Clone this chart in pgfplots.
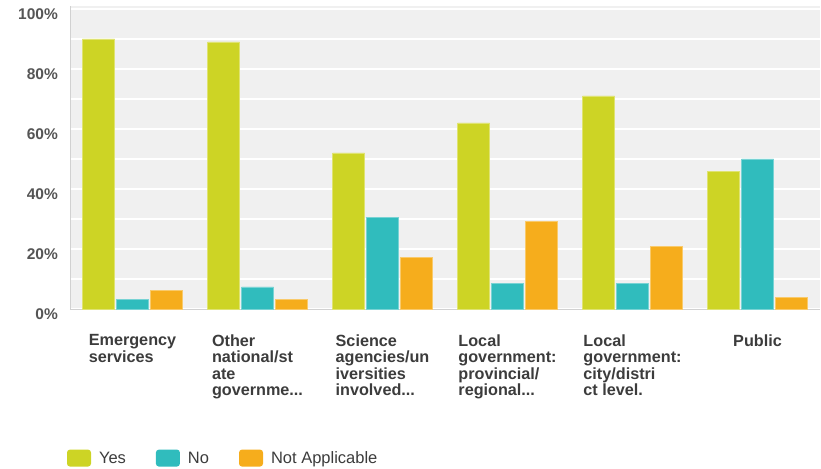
\documentclass[border=0pt]{standalone}
\usepackage{pgfplots}
\pgfplotsset{compat=1.18}
\usepackage{fontspec}
\setmainfont{Liberation Sans}
\definecolor{cyes}{HTML}{CDD425}
\definecolor{cno}{HTML}{30BCBD}
\definecolor{cna}{HTML}{F6AD1C}
\definecolor{bg}{HTML}{F0F0F0}
\definecolor{txt}{HTML}{3C3C3C}
\definecolor{ticktxt}{HTML}{555555}
\newcommand{\dd}{.{}.{}.}
\begin{document}
\begin{tikzpicture}
\begin{axis}[
  name=ax,
  scale only axis,
  width=750pt, height=303pt,
  xmin=-0.5, xmax=5.5,
  ymin=0, ymax=101,
  ybar=2pt, bar width=32pt,
  axis background/.style={fill=bg},
  axis lines*=left,
  axis line style={draw=black!18, line width=0.8pt},
  major tick length=0pt, minor tick length=0pt,
  ytick={0,20,40,60,80,100},
  yticklabels={0\%,20\%,40\%,60\%,80\%,100\%},
  minor ytick={10,30,50,70,90},
  ymajorgrids, yminorgrids,
  major grid style={white, line width=1.3pt},
  minor grid style={white, line width=1.3pt},
  yticklabel style={anchor=east, inner sep=0pt, xshift=-12pt, yshift=-5.5pt,
    font=\fontsize{15.5}{17}\selectfont\bfseries, text=ticktxt},
  xtick={0,1,2,3,4,5},
  xticklabels={{Emergency\\services},{Other\\national/st\\ate\\governme\dd},{Science\\agencies/un\\iversities\\involved\dd},{Local\\government:\\provincial/\\regional\dd},{Local\\government:\\city/distri\\ct level.},{Public}},
  xticklabel style={anchor=north, inner sep=0pt, yshift=-25.5pt, align=left,
    font=\fontsize{16.2}{16.5}\selectfont\bfseries, text=txt},
  legend columns=-1,
  legend style={at={(-0.004,-0.492)}, anchor=west, draw=none, fill=none,
    inner sep=0pt, outer sep=0pt,
    font=\fontsize{16.5}{18}\selectfont, text=txt,
    /tikz/every odd column/.append style={column sep=8pt},
    /tikz/every even column/.append style={column sep=30pt},
    nodes={inner sep=0pt}},
  legend image code/.code={\fill[#1,draw=none,rounded corners=3pt] (0pt,-8pt) rectangle (24pt,9pt);},
]
\addplot[fill=cyes, draw=cyes!65!white, line width=0.6pt] coordinates {(0,90) (1,89) (2,52) (3,62) (4,71) (5,45.9)};
\addplot[fill=cno, draw=cno!65!white, line width=0.6pt] coordinates {(0,3.3) (1,7.4) (2,30.6) (3,8.6) (4,8.6) (5,50)};
\addplot[fill=cna, draw=cna!65!white, line width=0.6pt] coordinates {(0,6.3) (1,3.3) (2,17.2) (3,29.1) (4,20.8) (5,3.9)};
\legend{Yes,No,Not Applicable}
\end{axis}
\path ([shift={(-70pt,-159pt)}]ax.south west) rectangle ([shift={(1pt,6pt)}]ax.north east);
\end{tikzpicture}
\end{document}
